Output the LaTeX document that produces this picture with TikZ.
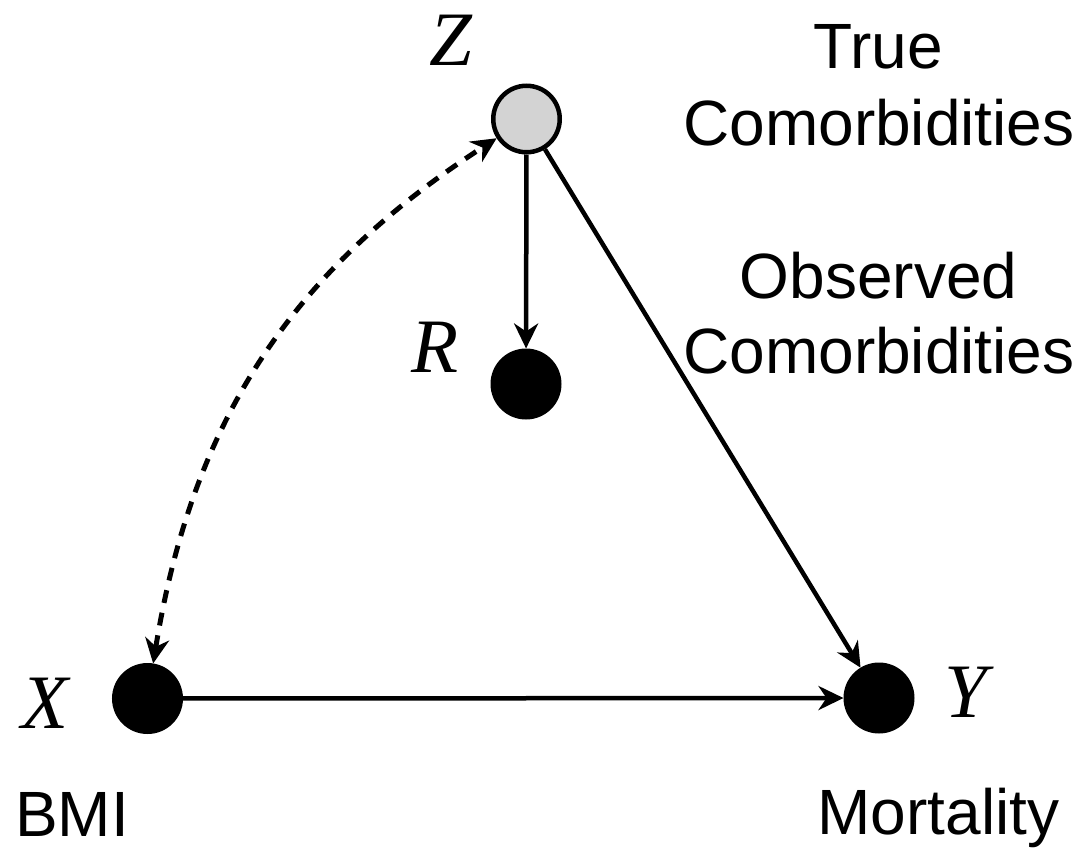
\documentclass[tikz,border=0pt]{standalone}
\usepackage{fontspec}
\setmainfont{Liberation Serif}
\setsansfont{Liberation Sans}
\usetikzlibrary{arrows.meta}
\definecolor{zgray}{HTML}{D3D3D3}
\begin{document}
\begin{tikzpicture}[x=1pt,y=-1pt,
  var/.style={circle,draw=black,line width=4.5pt,minimum size=66.5pt,inner sep=0pt},
  obs/.style={var,fill=black},
  latent/.style={var,fill=zgray},
  sym/.style={inner sep=0pt,anchor=base,font=\fontsize{77}{80}\selectfont\itshape},
  lab/.style={inner sep=0pt,anchor=base,font=\fontsize{64}{77}\sffamily},
  arr/.style={line width=4.5pt,-{Stealth[length=25pt,width=24pt,inset=8pt]}},
  darr/.style={line width=5pt,dash pattern=on 13pt off 10pt,
    {Stealth[length=25pt,width=24pt,inset=8pt]}-{Stealth[length=25pt,width=24pt,inset=8pt]}}
]
\useasboundingbox (0,0) rectangle (1085,849);
\node[latent] (Z) at (526.5,119) {};
\node[obs] (R) at (526,384) {};
\node[obs] (X) at (147.5,698.5) {};
\node[obs] (Y) at (879,698) {};

\node[sym] (zl) at (451,65) {Z};
\node[sym] (rl) at (435,372) {R};
\node[sym] (xl) at (45,728) {X};
\node[sym] (yl) at (966,717) {Y};

\node[lab] (t1) at (878,68) {True};
\node[lab] (t2) at (879,145) {Comorbidities};
\node[lab] (o1) at (878.5,298) {Observed};
\node[lab] (o2) at (879,373) {Comorbidities};
\node[lab] (bmi) at (72,836) {BMI};
\node[lab] (mort) at (938.5,834) {Mortality};

\draw[arr] (Z) -- (R);
\draw[arr] (Z) -- (Y);
\draw[arr] (X) -- (Y);
\draw[darr] (X) to[bend left=24] (Z);
\end{tikzpicture}
\end{document}
